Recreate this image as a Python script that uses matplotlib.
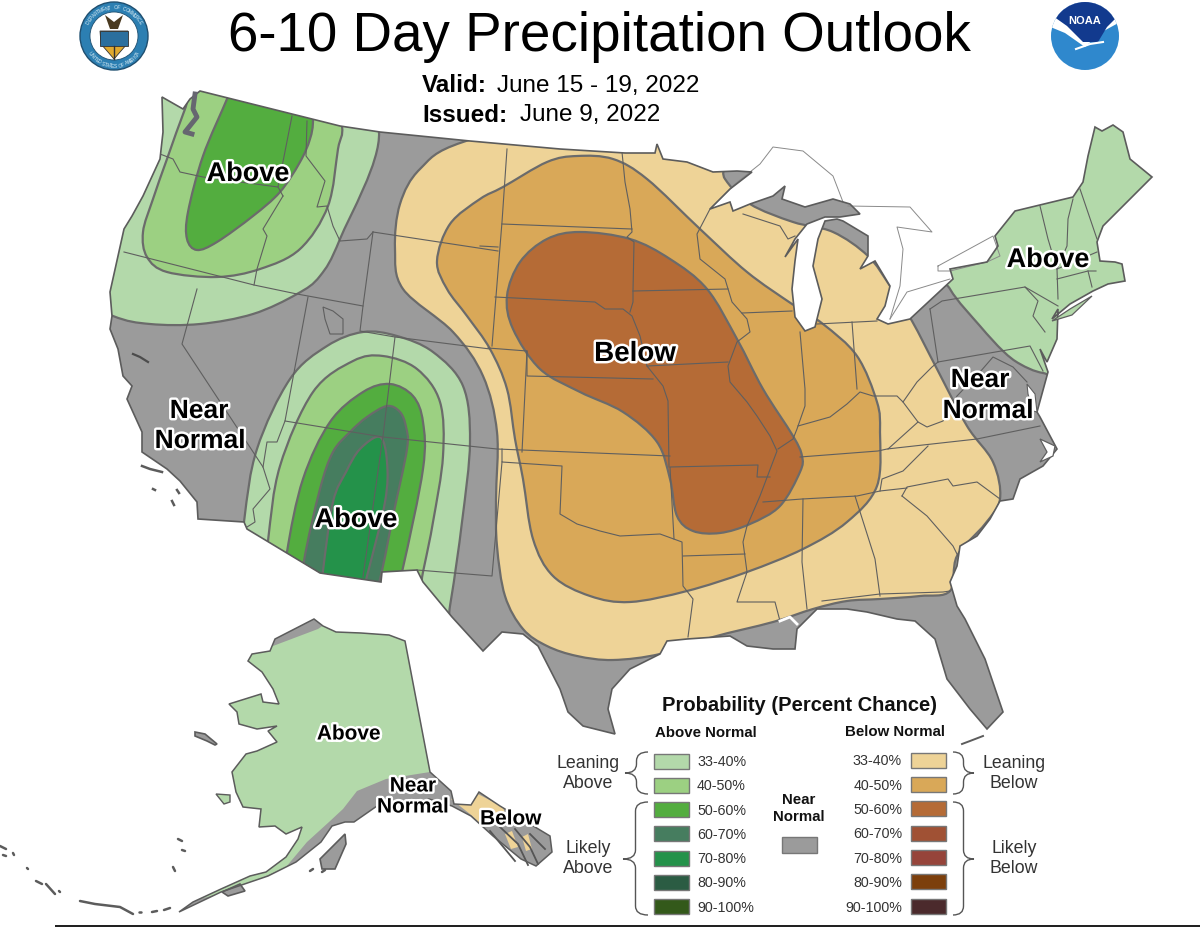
import numpy as np
import matplotlib
matplotlib.use("Agg")
import matplotlib.pyplot as plt
import matplotlib.patheffects as pe
from matplotlib.patches import PathPatch, Polygon, Circle, Rectangle
from matplotlib.path import Path

plt.rcParams['font.family'] = ['Liberation Sans', 'DejaVu Sans']

# colours
GRAY = '#9b9b9b'
EDGE = '#6b6b6b'
LINE = '#5f5f5f'
above_colors = ['#b3d9aa', '#9cd082', '#53ad3f', '#467d5f', '#24924a', '#2b5c43', '#33591a']
below_colors = ['#eed397', '#d9a858', '#b56b36', '#a05134', '#96443a', '#7c3f0c', '#4b2a2c']

# map outlines in pixels
us_outline = [(162,98),(183,110),(190,100),(200,92),(340,127),(380,133),(470,142),(560,150),(625,154),(655,154),
 (657,145),(663,160),(687,163),(713,173),(737,172),(752,173),(730,190),(710,210),(730,203),(733,212),(750,205),
 (773,197),(785,187),(782,200),(805,208),(833,200),(850,205),(860,215),(840,218),(825,218),(807,225),(795,240),
 (785,258),(798,240),(795,262),(792,290),(795,318),(805,332),(815,328),(822,300),(813,267),(818,240),(825,222),
 (837,220),(843,222),(868,237),(868,257),(860,270),(875,262),(890,287),(885,307),(877,320),(888,325),(910,320),
 (953,280),(950,270),(987,263),(998,247),(995,237),(1015,212),(1073,198),(1083,183),(1088,157),(1095,128),
 (1102,132),(1113,126),(1123,133),(1130,160),(1152,178),(1123,207),(1103,227),(1097,243),(1100,262),(1115,263),
 (1122,265),(1125,282),(1108,285),(1093,292),(1070,305),(1052,320),(1058,310),(1057,340),(1047,363),(1040,350),
 (1048,373),(1037,413),(1040,418),(1057,450),(1043,467),(1020,480),(1013,500),(1000,502),(990,520),(977,537),
 (960,547),(957,567),(950,583),(957,607),(965,620),(985,660),(1003,713),(987,730),(970,710),(947,680),(935,640),
 (915,622),(897,620),(867,613),(847,610),(817,610),(797,630),(795,650),(773,650),(747,647),(730,637),(687,640),
 (667,642),(660,655),(630,670),(612,690),(608,710),(615,735),(583,727),(568,713),(560,690),(538,647),(523,635),
 (502,633),(483,652),(452,618),(423,583),(417,571),(382,573),(381,583),(320,574),(247,530),(244,523),(198,520),
 (197,503),(180,482),(167,470),(142,453),(142,433),(127,400),(132,387),(123,377),(118,350),(110,330),(112,317),
 (110,293),(124,230),(132,217),(143,197),(160,160),(163,133)]

ak_outline = [(248,662),(252,655),(270,652),(275,640),(314,620),(323,627),(336,633),(361,634),(389,636),(405,642),
 (430,773),(451,792),(454,805),(471,806),(479,793),(500,807),(550,837),(552,853),(536,867),(521,860),(493,837),
 (471,817),(452,807),(429,800),(393,813),(377,807),(354,823),(345,823),(332,827),(321,843),(296,863),(268,877),
 (221,893),(179,913),(193,903),(221,890),(250,877),(266,873),(286,858),(298,840),(302,828),(286,835),(275,827),
 (259,828),(261,810),(243,808),(236,793),(232,773),(246,755),(257,752),(277,743),(268,732),(277,727),(257,730),
 (239,725),(237,713),(229,705),(261,695),(263,703),(279,705),(273,690),(262,673)]
ak_above = [(100,640),(273,647),(318,630),(340,615),(450,615),(450,773),(430,773),(386,780),(357,792),(343,810),
 (329,823),(307,843),(286,868),(266,877),(246,887),(200,900),(100,900)]
ak_below = [(451,800),(478,795),(503,808),(507,822),(480,824),(470,815)]
ak_below_bits = [[(505,835),(512,832),(518,848),(511,850)],[(522,838),(528,835),(532,850),(526,852)]]
ak_inlets = [[(490,832),(505,850),(515,862)],[(500,828),(518,845),(528,866)],[(515,830),(530,848),(538,865)],[(530,835),(545,850)]]
ak_islands = [[(195,733),(205,735),(217,745),(215,746),(207,742),(195,737)],
 [(320,860),(345,835),(346,845),(335,870),(322,870)],
 [(222,893),(240,885),(245,892),(228,897)]]
nunivak = [(216,795),(230,796),(230,803),(224,805)]
aleutians = [[(80,902),(95,905),(120,908),(133,915)],[(36,882),(42,885)],[(46,885),(55,895)],[(59,892),(60,893)],
 [(0,847),(6,850)],[(3,856),(6,857)],[(13,854),(14,856)],[(178,840),(182,842)],[(182,851),(185,852)],[(173,868),(175,872)],
 [(27,869),(28,870)],[(139,913),(141,913)],[(152,913),(157,912)],[(164,911),(170,909)],[(310,872),(313,870)],[(322,873),(325,871)]]

# outlook areas, points on the contours
nw_33 = [(379,133),(340,240),(320,277),(297,295),(253,315),(200,325),(150,325),(113,317),(60,290),(40,150),(150,50),(330,60)]
nw_40 = [(342,127),(338,150),(328,207),(300,250),(260,270),(217,278),(167,273),(147,258),(143,233),(153,200),(167,160),(185,110),(197,83),(260,50),(330,80)]
nw_50 = [(313,120),(310,140),(300,163),(280,193),(253,217),(217,243),(197,251),(187,240),(188,213),(203,157),(227,100),(233,83),(270,60),(310,85)]
sw_33 = [(244,523),(257,450),(290,380),(327,347),(363,333),(397,337),(433,353),(463,387),(470,443),(462,523),(450,607),(430,720),(260,720),(235,620)]
sw_40 = [(268,542),(280,467),(313,393),(353,362),(383,357),(417,370),(440,403),(443,457),(433,523),(423,573),(400,680),(280,680),(262,610)]
sw_50 = [(287,553),(303,480),(330,423),(363,393),(390,385),(413,397),(423,423),(423,470),(402,573),(380,660),(300,660),(282,610)]
sw_60 = [(304,562),(320,490),(333,453),(350,433),(367,418),(387,407),(400,413),(406,428),(407,450),(393,517),(380,580),(360,650),(310,650),(300,610)]
sw_70 = [(323,572),(333,503),(346,473),(360,450),(380,438),(387,463),(385,503),(367,577),(350,640),(325,640),(320,610)]
be_33 = [(463,143),(420,170),(400,205),(395,250),(403,290),(453,333),(483,377),(497,433),(496,500),(497,547),(505,597),
 (523,630),(547,647),(577,657),(613,661),(660,655),(713,638),(773,623),(813,610),(847,602),(880,600),(920,597),(950,592),
 (957,557),(985,525),(1000,500),(993,463),(967,427),(937,370),(912,322),(890,287),(868,257),(833,233),(793,223),(750,205),
 (725,180),(712,150),(600,110)]
be_40 = [(480,200),(503,188),(547,163),(577,157),(613,160),(647,180),(700,230),(747,273),(792,305),(823,325),(857,357),
 (877,403),(880,433),(877,487),(847,523),(803,550),(747,573),(687,592),(630,603),(590,597),(553,577),(533,540),(523,480),
 (515,440),(507,390),(490,350),(467,317),(447,290),(437,262),(450,225)]
be_50 = [(580,233),(547,240),(520,263),(507,297),(513,330),(540,370),(580,393),(623,413),(657,443),(670,480),(677,517),
 (693,532),(720,534),(750,525),(780,507),(800,473),(802,457),(793,437),(763,390),(737,340),(707,290),(670,260),(630,240)]
ne_33 = [(935,250),(950,290),(980,327),(1003,352),(1020,365),(1043,374),(1080,376),(1200,320),(1200,60),(1000,60)]

state_lines = [
 [(160,155),(173,160),(180,173),(203,178),(240,183),(278,188),(283,197)],
 [(292,117),(278,188)],
 [(283,197),(263,230),(267,237),(257,270),(254,286)],
 [(124,253),(254,286),(297,295),(363,307)],
 [(307,122),(306,157),(325,182),(317,208),(327,207),(333,227),(340,242),(367,240),(373,233)],
 [(373,233),(498,252)],
 [(373,233),(363,307),(360,332),(395,338),(490,350)],
 [(197,290),(182,345),(263,468),(270,490),(253,510),(255,523),(247,528)],
 [(263,468),(267,443),(277,443),(285,422)],
 [(308,298),(285,422),(383,438),(497,450),(670,457)],
 [(395,338),(383,437),(363,578)],
 [(507,150),(502,223),(492,347)],
 [(480,247),(498,248)],
 [(495,298),(595,303),(605,310),(623,310),(632,317),(640,337),(647,367),(663,387),(668,402),(669,468)],
 [(488,349),(527,352),(527,377),(653,380)],
 [(527,352),(522,453)],
 [(502,450),(502,463),(562,467),(560,515),(577,525),(600,532),(620,537),(660,535),(682,543),(683,587),(693,600),(688,638)],
 [(502,463),(492,577),(417,571)],
 [(683,557),(745,555)],
 [(674,540),(670,468),(758,466),(757,478),(770,478)],
 [(710,210),(697,235),(700,260),(725,280),(732,303),(747,320),(750,333),(737,343),(728,367),(730,383),(747,403),(757,417),
  (770,437),(777,452),(760,497),(747,527),(743,543),(747,573),(737,603),(775,603),(780,622)],
 [(763,503),(802,500),(857,497),(880,492),(907,489)],
 [(800,458),(878,452),(887,450),(977,440),(1040,427)],
 [(803,500),(802,563),(807,610)],
 [(855,497),(875,560),(880,597)],
 [(822,602),(880,595),(943,593),(950,592)],
 [(902,497),(927,517),(953,547),(958,557)],
 [(902,497),(907,488),(948,480),(953,487),(977,483),(1000,500)],
 [(880,492),(882,480),(903,472),(917,458),(928,447)],
 [(800,333),(805,390),(805,407),(798,427),(797,430),(793,440),(778,450)],
 [(798,427),(830,418),(847,405),(860,393),(873,397),(897,397),(903,403),(917,383),(932,368),(938,363)],
 [(852,323),(857,390)],
 [(817,325),(877,322)],
 [(903,403),(918,423),(888,450)],
 [(918,423),(927,428),(943,422),(957,397),(980,373),(993,358),(1013,368),(1027,383)],
 [(938,363),(1030,347),(1043,372)],
 [(930,310),(938,363)],
 [(930,310),(942,302),(1025,288),(1038,302),(1033,317),(1045,333)],
 [(1025,288),(1058,307)],
 [(1040,207),(1048,240),(1057,270),(1058,300)],
 [(1073,200),(1068,220),(1067,247),(1057,270)],
 [(1080,190),(1097,240)],
 [(1057,270),(1097,253)],
 [(1057,280),(1088,272),(1096,272)],
 [(1088,272),(1092,288)],
 [(622,153),(625,183),(630,210),(632,233),(627,238),(634,243),(633,292),(633,303),(630,313)],
 [(502,225),(632,230)],
 [(633,292),(728,290)],
 [(647,367),(728,363)],
 [(742,314),(792,312)],
 [(743,215),(780,227),(788,240),(795,237)],
]
salt_lake = [(323,308),(333,312),(343,320),(343,335),(330,335),(325,320)]
puget = [(195,95),(193,110),(197,118),(185,133),(192,135)]
chesapeake = [(1027,385),(1035,395),(1037,413),(1033,412),(1028,395)]
pamlico = [(1040,440),(1055,447),(1053,457),(1040,463),(1047,453)]
long_island = [(1052,322),(1070,310),(1092,297),(1072,316)]
channel_islands = [[(142,467),(150,470),(162,473)],[(153,490),(155,491)],[(177,491),(179,494)],[(172,502),(174,506)]]
keys = [(962,745),(970,742),(983,737)]
sf_bay = [(133,355),(140,358),(148,363)]
mobile_bay = [(780,622),(790,618),(797,625)]

# canadian side of the lakes, thin line only
lake_lines = [
 [(710,210),(735,185),(760,165),(773,148),(803,152),(833,177),(843,203)],
 [(848,207),(910,208),(932,233),(897,228),(903,250),(900,287),(890,320)],
 [(890,320),(907,293),(950,280)],
 [(938,267),(993,237),(1000,257),(987,263),(950,272),(938,272),(938,267)],
]

# legend
title = '6-10 Day Precipitation Outlook'
prob_labels = ['33-40%', '40-50%', '50-60%', '60-70%', '70-80%', '80-90%', '90-100%']
above_y = [762, 786, 810.3, 834.7, 859, 883, 907.7]
below_y = [761, 785.3, 809.7, 834, 858.3, 882.7, 907.3]
seal_text = 'DEPARTMENT OF COMMERCE'
seal_text2 = 'UNITED STATES OF AMERICA'


def smooth_path(pts):
    # closed catmull-rom through the points, as bezier segments
    p = np.array(pts, float)
    n = len(p)
    verts = [p[0]]
    codes = [Path.MOVETO]
    for i in range(n):
        b1 = p[i] + (p[(i+1) % n] - p[i-1]) / 6
        b2 = p[(i+1) % n] - (p[(i+2) % n] - p[i]) / 6
        verts += [b1, b2, p[(i+1) % n]]
        codes += [Path.CURVE4] * 3
    return Path(verts, codes)


def brace(x_tip, y_tip, x_end, y_top, y_bot):
    xm = (x_tip + x_end) / 2
    r = 9
    verts = [(x_end, y_top), (xm, y_top), (xm, y_top+r), (xm, y_tip-r), (xm, y_tip), (x_tip, y_tip),
             (xm, y_tip), (xm, y_tip+r), (xm, y_bot-r), (xm, y_bot), (x_end, y_bot)]
    codes = [Path.MOVETO, Path.CURVE3, Path.CURVE3, Path.LINETO, Path.CURVE3, Path.CURVE3,
             Path.CURVE3, Path.CURVE3, Path.LINETO, Path.CURVE3, Path.CURVE3]
    ax.add_patch(PathPatch(Path(verts, codes), fc='none', ec='#555555', lw=1.0))


fig = plt.figure(figsize=(12, 9.28), dpi=100)
ax = fig.add_axes([0, 0, 1, 1])
ax.set_xlim(0, 1200)
ax.set_ylim(928, 0)
ax.axis('off')

# conus
us = Polygon(us_outline, closed=True, fc=GRAY, ec='none', zorder=1)
ax.add_patch(us)
zones = [(nw_33, above_colors[0]), (nw_40, above_colors[1]), (nw_50, above_colors[2]),
         (sw_33, above_colors[0]), (sw_40, above_colors[1]), (sw_50, above_colors[2]),
         (sw_60, above_colors[3]), (sw_70, above_colors[4]),
         (be_33, below_colors[0]), (be_40, below_colors[1]), (be_50, below_colors[2]),
         (ne_33, above_colors[0])]
for pts, col in zones:
    z = PathPatch(smooth_path(pts), fc=col, ec=EDGE, lw=1.6, zorder=2)
    ax.add_patch(z)
    z.set_clip_path(us)

for line in state_lines:
    xs, ys = zip(*line)
    l, = ax.plot(xs, ys, color=LINE, lw=0.8, zorder=3, solid_joinstyle='round')
    l.set_clip_path(us)
ax.add_patch(Polygon(salt_lake, closed=True, fc='none', ec=LINE, lw=0.8, zorder=3))
ax.add_patch(Polygon(us_outline, closed=True, fc='none', ec='#5c5c5c', lw=1.2, zorder=4))
ax.add_patch(Polygon(chesapeake, closed=True, fc='white', ec=LINE, lw=0.8, zorder=4))
ax.add_patch(Polygon(pamlico, closed=True, fc='white', ec=LINE, lw=0.9, zorder=4))
ax.add_patch(Polygon(long_island, closed=True, fc=above_colors[0], ec=LINE, lw=0.9, zorder=4))
ax.plot(*zip(*puget), color='#666670', lw=3.5, zorder=4)
ax.plot(*zip(*keys), color='#5c5c5c', lw=1.4, zorder=4)
ax.plot(*zip(*sf_bay), color='#4c4c4c', lw=1.6, zorder=4)
ax.plot(*zip(*mobile_bay), color='white', lw=2, zorder=4)
for line in channel_islands:
    ax.plot(*zip(*line), color='#5c5c5c', lw=1.8, zorder=3)
for line in lake_lines:
    ax.plot(*zip(*line), color='#8a8a8a', lw=0.7, zorder=2)

# alaska
ak = Polygon(ak_outline, closed=True, fc=GRAY, ec='none', zorder=1)
ax.add_patch(ak)
for pts, col in [(ak_above, above_colors[0]), (ak_below, below_colors[0])] + [(b, below_colors[0]) for b in ak_below_bits]:
    z = Polygon(pts, closed=True, fc=col, ec='none', zorder=2)
    ax.add_patch(z)
    z.set_clip_path(ak)
for line in ak_inlets:
    ax.plot(*zip(*line), color='#555555', lw=1.3, zorder=3)
ax.add_patch(Polygon(ak_outline, closed=True, fc='none', ec='#5c5c5c', lw=1.1, zorder=4))
for pts in ak_islands:
    ax.add_patch(Polygon(pts, closed=True, fc=GRAY, ec='#5c5c5c', lw=1.2, zorder=3))
ax.add_patch(Polygon(nunivak, closed=True, fc=above_colors[0], ec='#5c5c5c', lw=1, zorder=3))
for line in aleutians:
    ax.plot(*zip(*line), color='#5c5c5c', lw=1.8, zorder=3, solid_capstyle='round')

# titles
ax.text(599, 37, title, fontsize=39.4, ha='center', va='center', color='black')
ax.text(422, 86, 'Valid:', fontsize=17.5, fontweight='bold', va='center')
ax.text(497, 86, 'June 15 - 19, 2022', fontsize=17.5, va='center')
ax.text(422, 115, 'Issued:', fontsize=17.5, fontweight='bold', va='center')
ax.text(520, 115, 'June 9, 2022', fontsize=17.5, va='center')

# labels on the map
halo = [pe.withStroke(linewidth=3.5, foreground='white')]
map_labels = [('Above', 248, 175, 19.5), ('Above', 356, 521, 19.5), ('Above', 1048, 261, 19.5),
              ('Below', 635, 355, 20), ('Near', 199, 412, 19), ('Normal', 200, 442, 19),
              ('Near', 980, 381, 19), ('Normal', 988, 412, 19), ('Above', 349, 735, 15),
              ('Near', 413, 787, 15), ('Normal', 413, 808, 15), ('Below', 511, 820, 15)]
for s, x, y, fs in map_labels:
    ax.text(x, y, s, fontsize=fs, fontweight='bold', ha='center', va='center', zorder=6, path_effects=halo)

# legend
ax.text(799, 706, 'Probability (Percent Chance)', fontsize=14.5, fontweight='bold', ha='center', va='center', color='#111111')
ax.text(706, 733, 'Above Normal', fontsize=10.8, fontweight='bold', ha='center', va='center', color='#111111')
ax.text(895, 732, 'Below Normal', fontsize=10.8, fontweight='bold', ha='center', va='center', color='#111111')
for lab, y, col in zip(prob_labels, above_y, above_colors):
    ax.add_patch(Rectangle((654, y-7.5), 35, 15, fc=col, ec='#777777', lw=1))
    ax.text(697, y+0.5, lab, fontsize=10.3, va='center', color='#333333')
for lab, y, col in zip(prob_labels, below_y, below_colors):
    ax.add_patch(Rectangle((911, y-7.5), 35, 15, fc=col, ec='#777777', lw=1))
    ax.text(902, y+0.5, lab, fontsize=10.3, va='center', ha='right', color='#333333')
ax.add_patch(Rectangle((782, 838), 35, 16, fc=GRAY, ec='#777777', lw=1))
ax.text(799, 800, 'Near', fontsize=10.8, fontweight='bold', ha='center', va='center', color='#111111')
ax.text(799, 817, 'Normal', fontsize=10.8, fontweight='bold', ha='center', va='center', color='#111111')
for s, x, y in [('Leaning', 588, 764), ('Above', 588, 784), ('Likely', 588, 849), ('Above', 588, 869),
                ('Leaning', 1014, 764), ('Below', 1014, 784), ('Likely', 1014, 849), ('Below', 1014, 869)]:
    ax.text(x, y, s, fontsize=12.8, ha='center', va='center', color='#333333')
brace(625, 774, 648, 753, 795)
brace(623, 860, 648, 803, 916)
brace(974, 774, 953, 753, 795)
brace(974, 860, 953, 803, 916)

# dark strip along the bottom of the picture
ax.add_patch(Rectangle((55, 926), 1145, 2, fc='#222222', ec='none', zorder=7))

# commerce seal
ax.add_patch(Circle((114, 37), 34, fc='#2c7fb2', ec='#1f4f70', lw=1))
ax.add_patch(Circle((114, 37), 24, fc='white', ec='#1f4f70', lw=0.6))
ax.add_patch(Polygon([(100,32),(128,32),(127,45),(114,60),(101,45)], closed=True, fc='#e0a92f', ec='#333333', lw=0.6))
ax.add_patch(Rectangle((100, 32), 28, 15, fc='#2b6f9e', ec='#333333', lw=0.6))
ax.add_patch(Polygon([(105,16),(114,23),(123,16),(118,30),(110,30)], closed=True, fc='#4a3a20', ec='none'))
ax.plot([114, 114], [47, 60], color='#333333', lw=1)
for s, start, end, r_sign in [(seal_text, 150, 30, 1), (seal_text2, 215, 325, -1)]:
    angles = np.linspace(start, end, len(s))
    for ch, a in zip(s, angles):
        x = 114 + 29.3 * np.cos(np.radians(a))
        y = 37 - 29.3 * np.sin(np.radians(a))
        rot = a - 90 if r_sign > 0 else a + 90
        ax.text(x, y, ch, fontsize=3.6, color='#d8ecf5', ha='center', va='center', rotation=rot)

# noaa logo
disc = Circle((1085, 37), 34, fc='#2f88cd', ec='none')
ax.add_patch(disc)
white = Polygon([(1048,27),(1065,34),(1085,48),(1100,34),(1122,22),(1122,0),(1048,0)], closed=True, fc='white', ec='none')
ax.add_patch(white)
white.set_clip_path(disc)
bird = Polygon([(1050,15),(1067,27),(1083,43),(1098,43),(1107,28),(1120,15),(1100,0),(1070,0)], closed=True, fc='#123a8e', ec='none')
ax.add_patch(bird)
bird.set_clip_path(disc)
ax.plot([1076, 1090, 1103], [50, 45, 43], color='white', lw=1.5)
ax.text(1085, 21, 'NOAA', fontsize=8, color='white', ha='center', va='center', fontweight='bold')

fig.savefig('out.png', dpi=100)
